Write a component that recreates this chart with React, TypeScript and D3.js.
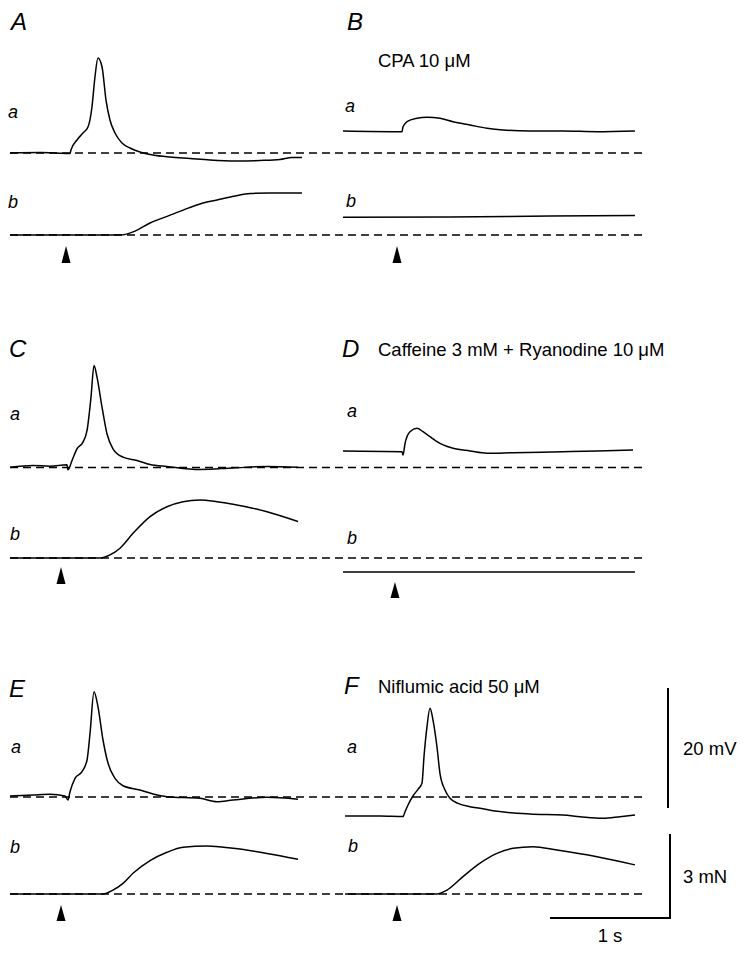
import React from 'react';
import * as d3 from 'd3';

// ---- Data: time (s from start of sweep), membrane potential (mV from dashed baseline) ----
const traceAa: [number, number][] = [
  [0, 0], [0.25, 0.08], [0.5, -0.08], [0.508, 0.5], [0.558, 2.17], [0.608, 3.33], [0.65, 4.33],
  [0.683, 7.67], [0.708, 12.67], [0.733, 15.83], [0.767, 14.33], [0.8, 8.83], [0.833, 5.5],
  [0.875, 3.33], [0.933, 1.67], [1.0, 0.83], [1.083, 0.17], [1.192, -0.33], [1.333, -0.67],
  [1.5, -0.92], [1.667, -1.17], [1.875, -1.33], [2.083, -1.25], [2.25, -1.08], [2.35, -0.75], [2.433, -0.75],
];
// tension (mN from dashed baseline)
const traceAb: [number, number][] = [
  [0, 0], [0.917, 0], [1.042, 0.14], [1.167, 0.43], [1.292, 0.64], [1.442, 0.89], [1.583, 1.11],
  [1.725, 1.25], [1.875, 1.39], [2.0, 1.48], [2.167, 1.5], [2.433, 1.5],
];
const traceBa: [number, number][] = [
  [0, 3.67], [0.492, 3.55], [0.5, 4.38], [0.533, 5.22], [0.617, 5.78], [0.7, 5.95], [0.808, 5.78],
  [0.917, 5.22], [1.058, 4.67], [1.2, 4.12], [1.333, 3.83], [1.558, 3.67], [1.833, 3.67], [2.117, 3.55], [2.433, 3.67],
];
const traceBb: [number, number][] = [
  [0, 0.63], [0.892, 0.64], [1.725, 0.68], [2.433, 0.7],
];
const traceCa: [number, number][] = [
  [0, 0.05], [0.192, 0.33], [0.333, 0.22], [0.475, 0.45], [0.483, -0.38], [0.517, 1.17], [0.558, 3.12],
  [0.608, 4.22], [0.642, 6.17], [0.675, 11.72], [0.7, 17.0], [0.725, 15.05], [0.767, 10.05], [0.808, 5.62],
  [0.858, 3.12], [0.942, 1.72], [1.058, 1.17], [1.167, 0.5], [1.308, 0.17], [1.583, -0.33], [1.858, -0.08],
  [2.142, 0.17], [2.4, 0.05],
];
const traceCb: [number, number][] = [
  [0, 0], [0.75, 0], [0.833, 0.11], [0.917, 0.35], [1.025, 0.88], [1.167, 1.48], [1.308, 1.83],
  [1.442, 2.01], [1.583, 2.07], [1.725, 2.01], [1.858, 1.92], [2.142, 1.65], [2.4, 1.3],
];
const traceDa: [number, number][] = [
  [0, 2.75], [0.492, 2.63], [0.5, 2.08], [0.517, 4.03], [0.558, 5.97], [0.617, 6.53], [0.667, 5.97],
  [0.725, 5.13], [0.808, 4.03], [0.917, 3.2], [1.058, 2.75], [1.2, 2.37], [1.417, 2.47], [1.833, 2.63],
  [2.117, 2.75], [2.417, 2.92],
];
const traceDb: [number, number][] = [
  [0, -0.5], [2.433, -0.5],
];
const traceEa: [number, number][] = [
  [0, 0.17], [0.192, 0.33], [0.333, 0.45], [0.458, 0.17], [0.483, -0.5], [0.5, 0.88], [0.542, 3.12],
  [0.6, 4.22], [0.642, 6.17], [0.667, 10.62], [0.7, 17.55], [0.733, 15.05], [0.775, 9.5], [0.817, 5.62],
  [0.875, 3.12], [0.942, 1.88], [1.083, 1.17], [1.192, 0.5], [1.308, 0.05], [1.583, -0.22], [1.725, -0.78],
  [1.858, -0.5], [2.142, -0.05], [2.4, -0.38],
];
const traceEb: [number, number][] = [
  [0, 0], [0.775, 0], [0.858, 0.14], [0.942, 0.38], [1.025, 0.74], [1.167, 1.19], [1.308, 1.49],
  [1.442, 1.67], [1.642, 1.71], [1.858, 1.63], [2.142, 1.45], [2.4, 1.24],
];
const traceFa: [number, number][] = [
  [0.017, -3.17], [0.308, -3.17], [0.5, -3.25], [0.517, -2.45], [0.542, -1.33], [0.583, 0.17],
  [0.625, 1.28], [0.658, 2.28], [0.675, 6.72], [0.7, 11.72], [0.725, 14.78], [0.75, 12.83], [0.783, 8.38],
  [0.808, 3.95], [0.85, 1.17], [0.892, -0.22], [0.958, -1.05], [1.058, -1.62], [1.142, -1.88], [1.267, -2.33],
  [1.558, -2.83], [1.833, -3.0], [1.975, -3.28], [2.167, -3.55], [2.308, -3.28], [2.433, -3.0],
];
const traceFb: [number, number][] = [
  [0.017, 0], [0.783, 0], [0.867, 0.14], [1.0, 0.62], [1.142, 1.1], [1.283, 1.45], [1.417, 1.63],
  [1.583, 1.69], [1.783, 1.57], [2.117, 1.33], [2.433, 1.04],
];

const panelLetters = ['A', 'B', 'C', 'D', 'E', 'F'];
const drugLabels = ['', 'CPA 10 \u03bcM', '', 'Caffeine 3 mM + Ryanodine 10 \u03bcM', '', 'Niflumic acid 50 \u03bcM'];
const stimulusTimes = [0.467, 0.45, 0.425, 0.433, 0.425, 0.45]; // arrowhead positions (s)
const scaleBarLabels = ['20 mV', '3 mN', '1 s'];
const scaleBarValues = [20, 3, 1]; // mV, mN, s

const tracesA = [traceAa, traceBa, traceCa, traceDa, traceEa, traceFa];
const tracesB = [traceAb, traceBb, traceCb, traceDb, traceEb, traceFb];

// ---- Layout ----
const W = 746, H = 953;
const COL_X0 = [10, 343];
const PX_PER_S = 120, PX_PER_MV = 6, PX_PER_MN = 28;
const ROWS = [
  { baseA: 153, baseB: 235, arrowTop: 246, arrowBot: 263 },
  { baseA: 467.5, baseB: 558, arrowTop: 567, arrowBot: 584 },
  { baseA: 797, baseB: 894, arrowTop: 905, arrowBot: 921 },
];
const ARROW_OVERRIDE: Record<number, [number, number]> = { 3: [582, 598] };
const LABEL_POS = [
  { L: [11, 30], a: [8, 118], b: [8, 208] },
  { L: [347, 30], a: [345, 112], b: [346, 207] },
  { L: [9, 357], a: [10, 420], b: [10, 540] },
  { L: [342, 357], a: [347, 417], b: [347, 544] },
  { L: [9, 697], a: [11, 753], b: [10, 853] },
  { L: [344, 694], a: [347, 753], b: [348, 852] },
];
const FONT = "'Liberation Sans', Arial, Helvetica, sans-serif";

export default function App() {
  const line = d3.line<[number, number]>().curve(d3.curveMonotoneX);

  const panels = panelLetters.map((letter, i) => {
    const col = i % 2;
    const row = ROWS[Math.floor(i / 2)];
    const x = d3.scaleLinear().domain([0, 1]).range([COL_X0[col], COL_X0[col] + PX_PER_S]);
    const yV = d3.scaleLinear().domain([0, 1]).range([row.baseA, row.baseA - PX_PER_MV]);
    const yF = d3.scaleLinear().domain([0, 1]).range([row.baseB, row.baseB - PX_PER_MN]);
    const pa = line(tracesA[i].map(([t, v]) => [x(t), yV(v)] as [number, number])) || '';
    const pb = line(tracesB[i].map(([t, v]) => [x(t), yF(v)] as [number, number])) || '';
    const ax = x(stimulusTimes[i]);
    const [at, ab] = ARROW_OVERRIDE[i] || [row.arrowTop, row.arrowBot];
    const lp = LABEL_POS[i];
    return (
      <g key={letter}>
        <path d={pa} fill="none" stroke="#000" strokeWidth={1.5} strokeLinejoin="round" />
        <path d={pb} fill="none" stroke="#000" strokeWidth={1.5} strokeLinejoin="round" />
        <path d={`M${ax},${at} L${ax + 4.5},${ab} L${ax - 4.5},${ab} Z`} fill="#000" />
        <text x={lp.L[0]} y={lp.L[1]} fontSize={24} fontStyle="italic" fontFamily={FONT}>{letter}</text>
        <text x={lp.a[0]} y={lp.a[1]} fontSize={18} fontStyle="italic" fontFamily={FONT}>a</text>
        <text x={lp.b[0]} y={lp.b[1]} fontSize={18} fontStyle="italic" fontFamily={FONT}>b</text>
        {drugLabels[i] && (
          <text x={378} y={lp.L[1] + (i === 1 ? 37 : -1)} fontSize={18.5} fontFamily={FONT}>{drugLabels[i]}</text>
        )}
      </g>
    );
  });

  // dashed baselines across both columns
  const dashed = ROWS.flatMap((r, k) => [r.baseA, r.baseB].map((y, j) => (
    <line key={`d${k}${j}`} x1={10} x2={642} y1={y} y2={y} stroke="#000" strokeWidth={1.3} strokeDasharray="8 5" />
  )));

  // scale bars
  const xs = d3.scaleLinear().domain([0, 1]).range([COL_X0[1], COL_X0[1] + PX_PER_S]);
  const sbV = d3.scaleLinear().domain([0, 1]).range([808, 808 - PX_PER_MV]);
  const sbF = d3.scaleLinear().domain([0, 1]).range([918, 918 - PX_PER_MN]);
  const xEnd = 670;
  const xStart = xEnd - (xs(scaleBarValues[2]) - xs(0));

  return (
    <svg width={W} height={H} style={{ position: 'absolute', left: 0, top: 0, background: '#fff' }}>
      <rect width={W} height={H} fill="#fff" />
      {dashed}
      {panels}
      <line x1={668} x2={668} y1={sbV(0)} y2={sbV(scaleBarValues[0])} stroke="#000" strokeWidth={2} />
      <path d={`M${xStart},${sbF(0)} L${xEnd},${sbF(0)} L${xEnd},${sbF(scaleBarValues[1])}`} fill="none" stroke="#000" strokeWidth={2} />
      <text x={683} y={755} fontSize={18.5} fontFamily={FONT}>{scaleBarLabels[0]}</text>
      <text x={683} y={883} fontSize={18.5} fontFamily={FONT}>{scaleBarLabels[1]}</text>
      <text x={610} y={942} fontSize={18.5} fontFamily={FONT} textAnchor="middle">{scaleBarLabels[2]}</text>
    </svg>
  );
}
